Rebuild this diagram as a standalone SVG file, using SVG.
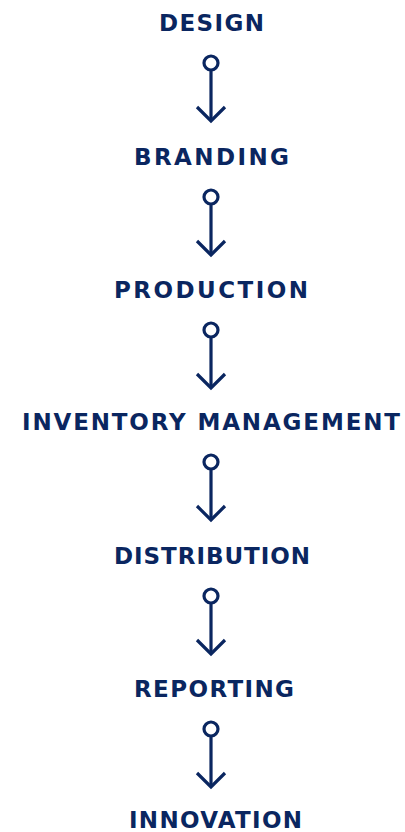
<svg xmlns="http://www.w3.org/2000/svg" width="405" height="832" viewBox="0 0 405 832">
<style>
.lbl{font-family:"DejaVu Sans","Liberation Sans",sans-serif;font-weight:700;font-size:23px;fill:#0a2660}
.c{fill:none;stroke:#0a2660;stroke-width:3.2}
.a{fill:none;stroke:#0a2660;stroke-width:3.2;stroke-linejoin:miter;stroke-linecap:butt}
</style>
<rect width="405" height="832" fill="#ffffff"/>
<g id="design"><text class="lbl" x="159" y="31" textLength="105" lengthAdjust="spacing">DESIGN</text></g>
<g id="branding"><text class="lbl" x="134" y="165" textLength="155" lengthAdjust="spacing">BRANDING</text></g>
<g id="production"><text class="lbl" x="114" y="298" textLength="194" lengthAdjust="spacing">PRODUCTION</text></g>
<g id="inventory-management"><text class="lbl" x="22" y="430" textLength="378" lengthAdjust="spacing">INVENTORY MANAGEMENT</text></g>
<g id="distribution"><text class="lbl" x="114" y="564" textLength="196" lengthAdjust="spacing">DISTRIBUTION</text></g>
<g id="reporting"><text class="lbl" x="134" y="697" textLength="160" lengthAdjust="spacing">REPORTING</text></g>
<g id="innovation"><text class="lbl" x="129" y="828" textLength="173" lengthAdjust="spacing">INNOVATION</text></g>
<g id="connectors">
<g transform="translate(0,31)"><circle class="c" cx="211" cy="32" r="7"/><line class="a" x1="211" y1="39" x2="211" y2="90"/><polyline class="a" points="197,76 211,90 225,76"/></g>
<g transform="translate(0,165)"><circle class="c" cx="211" cy="32" r="7"/><line class="a" x1="211" y1="39" x2="211" y2="90"/><polyline class="a" points="197,76 211,90 225,76"/></g>
<g transform="translate(0,298)"><circle class="c" cx="211" cy="32" r="7"/><line class="a" x1="211" y1="39" x2="211" y2="90"/><polyline class="a" points="197,76 211,90 225,76"/></g>
<g transform="translate(0,430)"><circle class="c" cx="211" cy="32" r="7"/><line class="a" x1="211" y1="39" x2="211" y2="90"/><polyline class="a" points="197,76 211,90 225,76"/></g>
<g transform="translate(0,564)"><circle class="c" cx="211" cy="32" r="7"/><line class="a" x1="211" y1="39" x2="211" y2="90"/><polyline class="a" points="197,76 211,90 225,76"/></g>
<g transform="translate(0,697)"><circle class="c" cx="211" cy="32" r="7"/><line class="a" x1="211" y1="39" x2="211" y2="90"/><polyline class="a" points="197,76 211,90 225,76"/></g>
</g>
</svg>
